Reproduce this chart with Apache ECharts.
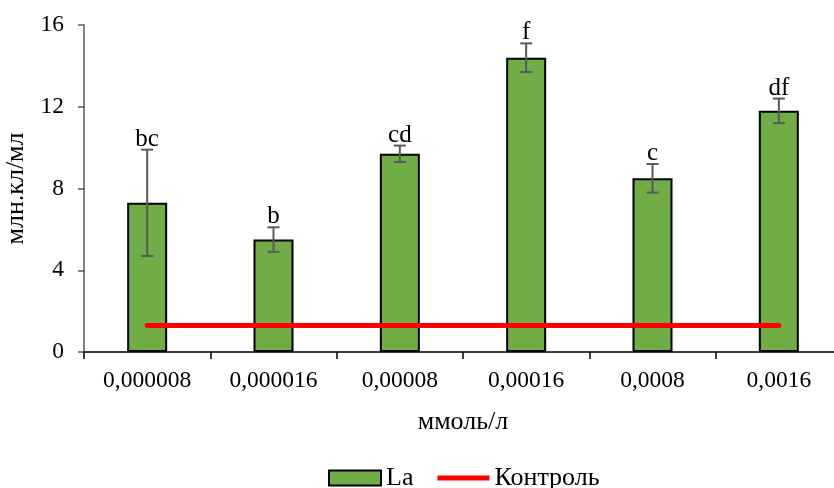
<!DOCTYPE html>
<html>
<head>
<meta charset="utf-8">
<script src="https://cdn.jsdelivr.net/npm/echarts@6/dist/echarts.min.js"></script>
<style>
  html, body { margin: 0; padding: 0; background: #fff; }
  #chart { width: 834px; height: 488px; }
</style>
</head>
<body>
<div id="chart"></div>
<script>
// Concentrations, mmol/L
const categories = ['0,000008', '0,000016', '0,00008', '0,00016', '0,0008', '0,0016'];
// Mean cell density, mln cells/mL
const laValues = [7.3, 5.5, 9.7, 14.4, 8.5, 11.8];
// Error (± deviation)
const laErrors = [2.6, 0.6, 0.4, 0.7, 0.7, 0.6];
// Significance group letters
const groupLetters = ['bc', 'b', 'cd', 'f', 'c', 'df'];
// Control level
const controlValues = [1.3, 1.3, 1.3, 1.3, 1.3, 1.3];
const yTicks = [0, 4, 8, 12, 16];

const FONT = '"Liberation Serif", "Times New Roman", serif';

const chart = echarts.init(document.getElementById('chart'));

const errData = laValues.map((v, i) => [i, v - laErrors[i], v + laErrors[i], groupLetters[i]]);

chart.setOption({
  animation: false,
  textStyle: { fontFamily: FONT },
  grid: { left: 84, right: -8, top: 25, bottom: 136, containLabel: false, outerBoundsMode: 'none' },
  legend: {
    left: 323,
    top: 460,
    itemWidth: 52,
    itemHeight: 15,
    itemGap: 24,
    textStyle: { fontFamily: FONT, fontSize: 26, color: '#000' },
    data: [
      { name: 'La', icon: 'rect', itemStyle: { borderColor: '#000', borderWidth: 2 } },
      { name: 'Контроль', icon: 'path://M0,0 L54,0 L54,5 L0,5 Z' }
    ]
  },
  xAxis: {
    type: 'category',
    data: categories,
    boundaryGap: true,
    name: 'ммоль/л',
    nameLocation: 'middle',
    nameGap: 57,
    nameTextStyle: { fontFamily: FONT, fontSize: 26, color: '#000' },
    axisLine: { lineStyle: { color: '#000', width: 1.5 } },
    axisTick: { show: true, length: 7, lineStyle: { color: '#000', width: 1.5 } },
    axisLabel: { fontFamily: FONT, fontSize: 23.5, color: '#000', margin: 17 },
    splitLine: { show: false }
  },
  yAxis: {
    type: 'value',
    min: yTicks[0],
    max: yTicks[yTicks.length - 1],
    interval: 4,
    name: 'млн.кл/мл',
    nameLocation: 'middle',
    nameGap: 55,
    nameTextStyle: { fontFamily: FONT, fontSize: 26, color: '#000' },
    axisLine: { show: true, lineStyle: { color: '#595959', width: 1.5 } },
    axisTick: { show: true, length: 6, lineStyle: { color: '#595959', width: 1.5 } },
    axisLabel: { fontFamily: FONT, fontSize: 23.5, color: '#000', margin: 20 },
    splitLine: { show: false }
  },
  series: [
    {
      name: 'La',
      type: 'bar',
      data: laValues,
      barWidth: 40,
      itemStyle: { color: '#70AD47', borderColor: '#000', borderWidth: 2 },
      z: 2
    },
    {
      name: 'Контроль',
      type: 'line',
      data: controlValues,
      symbol: 'none',
      lineStyle: { color: '#FF0000', width: 5, cap: 'round' },
      itemStyle: { color: '#FF0000' },
      z: 4
    },
    {
      name: 'err',
      type: 'custom',
      data: errData,
      z: 3,
      renderItem: function (params, api) {
        const x = api.value(0);
        const lo = api.coord([x, api.value(1)]);
        const hi = api.coord([x, api.value(2)]);
        const cap = 6;
        const style = { stroke: '#595959', lineWidth: 2 };
        return {
          type: 'group',
          children: [
            { type: 'line', shape: { x1: hi[0], y1: hi[1], x2: lo[0], y2: lo[1] }, style: style },
            { type: 'line', shape: { x1: hi[0] - cap, y1: hi[1], x2: hi[0] + cap, y2: hi[1] }, style: style },
            { type: 'line', shape: { x1: lo[0] - cap, y1: lo[1], x2: lo[0] + cap, y2: lo[1] }, style: style },
            {
              type: 'text',
              x: hi[0],
              y: hi[1] + 2,
              style: {
                text: api.value(3),
                fontFamily: FONT,
                fontSize: 25,
                fill: '#000',
                align: 'center',
                verticalAlign: 'bottom'
              }
            }
          ]
        };
      }
    }
  ]
});
</script>
</body>
</html>
